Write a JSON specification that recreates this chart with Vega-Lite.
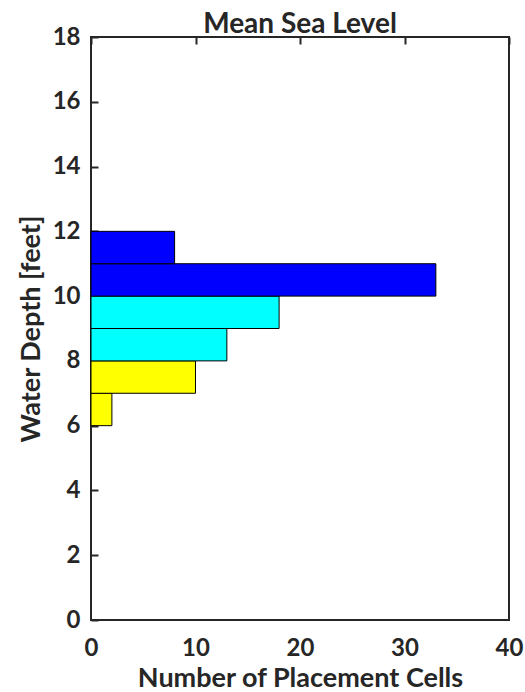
{
  "$schema": "https://vega.github.io/schema/vega-lite/v6.json",
  "autosize": {"type": "none"},
  "width": 418,
  "height": 583,
  "padding": {"left": 91, "top": 37, "right": 16, "bottom": 72},
  "background": "white",
  "title": {"text": "Mean Sea Level", "fontSize": 28, "font": "Lato", "fontWeight": "bold", "color": "#262626", "offset": -14, "anchor": "middle"},
  "config": {
    "view": {"stroke": "#262626", "strokeWidth": 2},
    "axis": {"labelFont": "Lato", "titleFont": "Lato", "labelFontWeight": "bold", "titleFontWeight": "bold", "labelColor": "#262626", "titleColor": "#262626", "domain": false, "ticks": false, "tickSize": 0, "grid": true, "gridColor": "#262626", "gridOpacity": 1, "gridWidth": 2, "gridDash": [7, 2000], "labelFontSize": 24, "titleFontSize": 27, "labelFlush": false, "zindex": 1}
  },
  "data": {"values": [
    {"depth_start": 6, "depth_end": 7, "count": 2, "zone": "shallow"},
    {"depth_start": 7, "depth_end": 8, "count": 10, "zone": "shallow"},
    {"depth_start": 8, "depth_end": 9, "count": 13, "zone": "middle"},
    {"depth_start": 9, "depth_end": 10, "count": 18, "zone": "middle"},
    {"depth_start": 10, "depth_end": 11, "count": 33, "zone": "deep"},
    {"depth_start": 11, "depth_end": 12, "count": 8, "zone": "deep"}
  ]},
  "layer": [
    {
      "mark": {"type": "bar", "stroke": "black", "strokeWidth": 1},
      "encoding": {
        "y": {"field": "depth_start", "type": "quantitative", "scale": {"domain": [0, 18], "nice": false, "zero": true},
              "axis": {"orient": "left", "values": [0,2,4,6,8,10,12,14,16,18], "title": "Water Depth [feet]", "labelPadding": 11, "titlePadding": 7}},
        "y2": {"field": "depth_end"},
        "x": {"field": "count", "type": "quantitative", "scale": {"domain": [0, 40], "nice": false},
              "axis": {"orient": "bottom", "values": [0,10,20,30,40], "title": "Number of Placement Cells", "labelPadding": 16, "titlePadding": 5}},
        "x2": {"datum": 0},
        "color": {"field": "zone", "type": "nominal", "legend": null,
                  "scale": {"domain": ["shallow", "middle", "deep"], "range": ["#ffff00", "#00ffff", "#0000ff"]}}
      }
    },
    {
      "mark": {"type": "bar", "opacity": 0},
      "encoding": {
        "y": {"field": "depth_start", "type": "quantitative",
              "axis": {"orient": "right", "values": [0,2,4,6,8,10,12,14,16,18], "labels": false, "title": null}},
        "y2": {"field": "depth_end"},
        "x": {"field": "count", "type": "quantitative",
              "axis": {"orient": "top", "values": [0,10,20,30,40], "labels": false, "title": null}},
        "x2": {"datum": 0}
      }
    }
  ],
  "resolve": {"axis": {"x": "independent", "y": "independent"}}
}
